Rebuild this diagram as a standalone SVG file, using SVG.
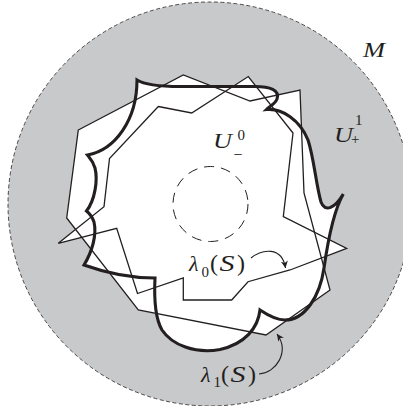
<svg xmlns="http://www.w3.org/2000/svg" width="403" height="406" viewBox="0 0 403 406">
<defs>
<style>
.thin{fill:none;stroke:#231f20;stroke-width:1.3;stroke-linejoin:miter}
.thick{fill:none;stroke:#231f20;stroke-width:3.1;stroke-linejoin:miter;stroke-miterlimit:10}
.wf{fill:#ffffff;stroke:none}
.lbl{font-family:"Liberation Serif","Times New Roman",serif;fill:#231f20}
.it{font-style:italic}
.arr{fill:none;stroke:#231f20;stroke-width:1.1}
</style>
<marker id="ah" markerUnits="userSpaceOnUse" markerWidth="10" markerHeight="10" viewBox="-8 -5 10 10" refX="0" refY="0" orient="auto">
<path d="M0,0 L-7,-3.5 L-5,0 L-7,3.5 Z" fill="#231f20"/>
</marker>
<path id="thickP" d="M137,80 C145,85 160,86.5 180,86.5 L255,86.5 C270,86.5 280,90 277,99 C275,104 269,107 266.5,109.5 C282,108 300,120 308,140 C314,158 316,185 321,202 C325,213 335,208 343.3,194 C334,210 328,240 324,268 C320,296 305,320 285,320 C275,320 266,314 260,310 C258,328 245,344 220,349.5 C195,354 172,345 162,330 C155,318 154,298 155,278 Q120,278 84,265 C92,252 97,235 94,222 C92,216 89,213 86.5,211 C95,200 98,180 95,168 C93,161 90,158 87.5,155 C115,150 137,120 137,80 Z"/>
<polygon id="polyA" points="78.3,130 183.3,75 250,101 300,90 304,193 330,290 266,335 138.3,310 66.7,218"/>
<polygon id="polyB" points="158.3,106.5 191.7,113 248.3,76.5 293,133 283.3,216.7 346.7,248.3 290,270 248,281.7 231.7,300 183.3,300 183.3,278 137.5,293.5 116.7,228.3 58.3,243.3 104,206.7 109.5,158.5"/>
</defs>

<g id="manifold">
<circle cx="210" cy="204" r="202" fill="#c8c9cb" stroke="#231f20" stroke-width="0.8" stroke-dasharray="4 2.5"/>
</g>

<g id="white-region">
<use href="#polyA" class="wf"/>
<use href="#polyB" class="wf"/>
<use href="#thickP" class="wf"/>
</g>

<g id="inner-disk">
<circle cx="210.5" cy="204" r="37.5" fill="none" stroke="#231f20" stroke-width="1" stroke-dasharray="10 7"/>
</g>

<g id="lambda1-curve"><use href="#polyA" class="thin"/></g>
<g id="lambda0-curve"><use href="#polyB" class="thin"/></g>
<g id="thick-curve"><use href="#thickP" class="thick"/></g>

<g id="connectors">
<path class="arr" d="M251,258 C262,249 282,246 285.5,268" marker-end="url(#ah)"/>
<path class="arr" d="M259,374 C276,373 290,352 277,334" marker-end="url(#ah)"/>
</g>

<g id="label-M"><text class="lbl it" x="363" y="57" font-size="22" textLength="22" lengthAdjust="spacingAndGlyphs">M</text></g>

<g id="label-Uplus">
<text class="lbl it" x="334" y="142" font-size="22" textLength="19" lengthAdjust="spacingAndGlyphs">U</text>
<text class="lbl" x="355" y="125" font-size="15">1</text>
<text class="lbl" x="351" y="143.5" font-size="15">+</text>
</g>

<g id="label-Uminus">
<text class="lbl it" x="213" y="148" font-size="22" textLength="19" lengthAdjust="spacingAndGlyphs">U</text>
<text class="lbl" x="237.5" y="139.5" font-size="15">0</text>
<text class="lbl" x="233.5" y="159.5" font-size="16">−</text>
</g>

<g id="label-lambda0">
<text class="lbl it" x="189" y="271" font-size="22">λ</text>
<text class="lbl" x="201.5" y="277" font-size="15">0</text>
<text class="lbl" x="210" y="271" font-size="24">(</text>
<text class="lbl it" x="219.5" y="271" font-size="24" textLength="15" lengthAdjust="spacingAndGlyphs">S</text>
<text class="lbl" x="237" y="271" font-size="24">)</text>
</g>

<g id="label-lambda1">
<text class="lbl it" x="201" y="381.5" font-size="22">λ</text>
<text class="lbl" x="213.5" y="387" font-size="15">1</text>
<text class="lbl" x="221" y="381.5" font-size="24">(</text>
<text class="lbl it" x="230.5" y="381.5" font-size="24" textLength="15" lengthAdjust="spacingAndGlyphs">S</text>
<text class="lbl" x="248" y="381.5" font-size="24">)</text>
</g>
</svg>
